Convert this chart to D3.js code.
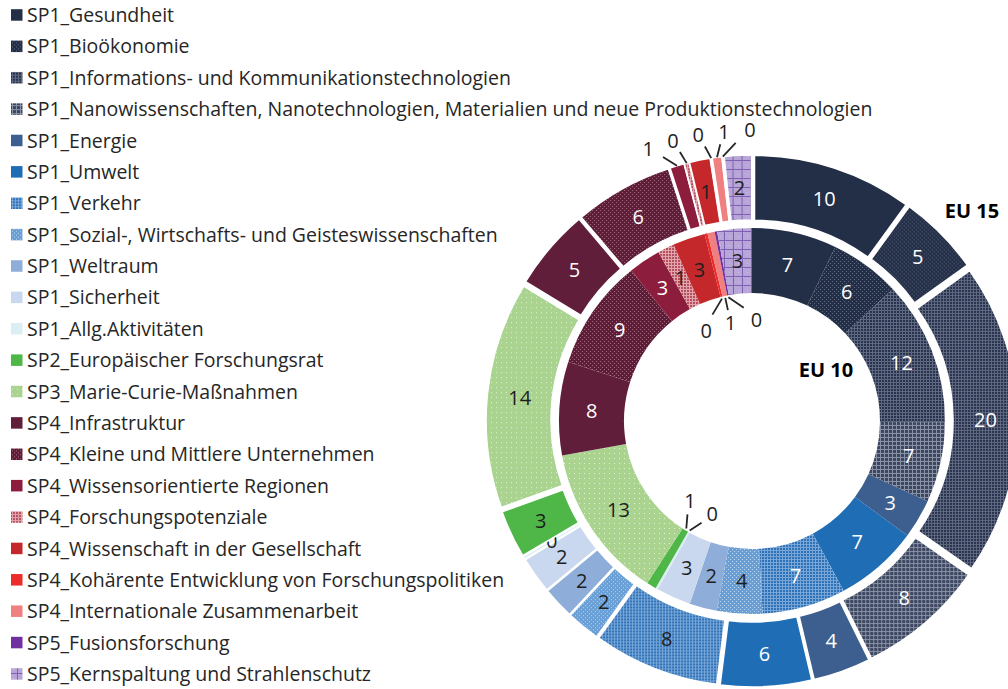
<!DOCTYPE html>
<html>
<head>
<meta charset="utf-8">
<script src="https://cdn.jsdelivr.net/npm/d3@7"></script>
<style>
  body { margin: 0; background: #fff; }
  svg text { font-family: "Open Sans", "Noto Sans", sans-serif; }
</style>
</head>
<body>
<div id="graphic"></div>
<script>
// Anteile je Programmbereich (in %), EU 10 innen, EU 15 aussen
const categories = [
  "SP1_Gesundheit",
  "SP1_Bioökonomie",
  "SP1_Informations- und Kommunikationstechnologien",
  "SP1_Nanowissenschaften, Nanotechnologien, Materialien und neue Produktionstechnologien",
  "SP1_Energie",
  "SP1_Umwelt",
  "SP1_Verkehr",
  "SP1_Sozial-, Wirtschafts- und Geisteswissenschaften",
  "SP1_Weltraum",
  "SP1_Sicherheit",
  "SP1_Allg.Aktivitäten",
  "SP2_Europäischer Forschungsrat",
  "SP3_Marie-Curie-Maßnahmen",
  "SP4_Infrastruktur",
  "SP4_Kleine und Mittlere Unternehmen",
  "SP4_Wissensorientierte Regionen",
  "SP4_Forschungspotenziale",
  "SP4_Wissenschaft in der Gesellschaft",
  "SP4_Kohärente Entwicklung von Forschungspolitiken",
  "SP4_Internationale Zusammenarbeit",
  "SP5_Fusionsforschung",
  "SP5_Kernspaltung und Strahlenschutz"
];

const eu10 = [7.1, 5.9, 12.1, 6.7, 3.3, 7.0, 7.0, 3.8, 2.3, 2.9, 0.2,
              0.8, 13.0, 7.8, 9.3, 2.7, 1.4, 2.7, 0.25, 0.6, 0.2, 2.9];
const eu15 = [10.0, 5.1, 19.6, 8.0, 3.6, 5.7, 7.9, 2.1, 2.0, 2.3, 0.2,
              3.0, 14.2, 5.1, 6.2, 0.9, 0.3, 1.3, 0.1, 0.6, 0.1, 1.7];

const seriesNames = ["EU 10", "EU 15"];

// slices labelled with a leader line instead of inside the ring
const callouts10 = ["SP1_Allg.Aktivitäten", "SP2_Europäischer Forschungsrat",
  "SP4_Kohärente Entwicklung von Forschungspolitiken", "SP4_Internationale Zusammenarbeit",
  "SP5_Fusionsforschung"];
const callouts15 = ["SP4_Wissensorientierte Regionen", "SP4_Forschungspotenziale",
  "SP4_Kohärente Entwicklung von Forschungspolitiken", "SP4_Internationale Zusammenarbeit",
  "SP5_Fusionsforschung"];

// fills: base colour, pattern kind, pattern colour
const fills = [
  ["#232e47", null, null],
  ["#232e47", "check", "#5f687f"],
  ["#29334d", "grid", "#5f6881"],
  ["#3c4660", "grid4", "#8a92a6"],
  ["#3d5f8f", null, null],
  ["#1f6db4", null, null],
  ["#2f72b6", "grid", "#78a6d8"],
  ["#6a9fd6", "check", "#b9d2ec"],
  ["#8eadd9", null, null],
  ["#c9d8ee", null, null],
  ["#dbeef4", null, null],
  ["#4fb748", null, null],
  ["#a9d38f", "sparse", "#e4f2da"],
  ["#611e3a", null, null],
  ["#5c1d36", "check", "#a86a80"],
  ["#8c1d3c", null, null],
  ["#b5505f", "grid", "#e3a5ad"],
  ["#c4282b", null, null],
  ["#ee2b2b", null, null],
  ["#f08080", null, null],
  ["#7030a0", null, null],
  ["#b8a6d8", "biggrid", "#7f5fb3"]
];

// white value labels on dark slices
const whiteLabels10 = [0, 1, 2, 3, 4, 5, 6, 13, 14, 15];
const whiteLabels15 = [0, 1, 2, 3, 4, 5, 13, 14];

const width = 1008, height = 689;
const cx = 752, cy = 421;
const ring10 = { inner: 128, outer: 193 };
const ring15 = { inner: 193, outer: 258, explode: 8 };
const textColor = "#262626";
const valueSize = 20;

const svg = d3.select("#graphic").append("svg")
  .attr("width", width)
  .attr("height", height);

const defs = svg.append("defs");

function addPattern(id, base, kind, fg){
  const size = { check: 4, grid: 3, grid4: 4, sparse: 5, biggrid: 9 }[kind];
  const p = defs.append("pattern")
    .attr("id", id)
    .attr("patternUnits", "userSpaceOnUse")
    .attr("width", size)
    .attr("height", size);
  p.append("rect").attr("width", size).attr("height", size).attr("fill", base);
  if (kind === "check"){
    p.append("rect").attr("x", 0).attr("y", 0).attr("width", 1).attr("height", 1).attr("fill", fg);
    p.append("rect").attr("x", 2).attr("y", 2).attr("width", 1).attr("height", 1).attr("fill", fg);
  } else if (kind === "grid" || kind === "grid4"){
    p.append("rect").attr("x", 0).attr("y", 0).attr("width", size).attr("height", 1).attr("fill", fg);
    p.append("rect").attr("x", 0).attr("y", 0).attr("width", 1).attr("height", size).attr("fill", fg);
  } else if (kind === "sparse"){
    p.append("rect").attr("x", 2).attr("y", 2).attr("width", 1).attr("height", 1).attr("fill", fg);
  } else if (kind === "biggrid"){
    p.append("rect").attr("x", 0).attr("y", 0).attr("width", 1).attr("height", 1).attr("fill", "#cbbde4");
    p.append("rect").attr("x", 4).attr("y", 4).attr("width", 1).attr("height", 1).attr("fill", "#cbbde4");
    p.append("rect").attr("x", 0).attr("y", 8).attr("width", size).attr("height", 1).attr("fill", fg);
    p.append("rect").attr("x", 8).attr("y", 0).attr("width", 1).attr("height", size).attr("fill", fg);
  }
}

const fillOf = categories.map(function(c, i){
  const f = fills[i];
  if (!f[1]) return f[0];
  addPattern("pat" + i, f[0], f[1], f[2]);
  return "url(#pat" + i + ")";
});

// ---- legend ----
const yLegend = d3.scalePoint()
  .domain(categories)
  .range([15, 674]);

const legend = svg.append("g").attr("class", "legend");

const items = legend.selectAll("g")
  .data(categories)
  .enter()
  .append("g")
  .attr("transform", d => `translate(0, ${yLegend(d)})`);

items.append("rect")
  .attr("x", 11)
  .attr("y", -5.8)
  .attr("width", 11.5)
  .attr("height", 11.5)
  .attr("fill", (d, i) => fillOf[i]);

const legendText = items.append("text")
  .attr("x", 27)
  .attr("dy", "0.36em")
  .attr("fill", textColor)
  .style("font-size", "21px")
  .text(d => d);

// fit the longest entry to the width it has in the original
let maxW = 0;
legendText.each(function(){ maxW = Math.max(maxW, this.getComputedTextLength()); });
const fontSize = Math.min(21, 21 * 846 / maxW);
legendText.style("font-size", fontSize + "px");

// ---- rings ----
const pie = d3.pie().sort(null).value(d => d);
const plot = svg.append("g").attr("transform", `translate(${cx}, ${cy})`);

const dir = a => [Math.sin(a), -Math.cos(a)];
const fmt = v => String(Math.round(v));

function drawRing(values, ring, callouts, whites, cls){
  const arcs = pie(values);
  const arc = d3.arc().innerRadius(ring.inner).outerRadius(ring.outer);
  const ex = ring.explode || 0;
  const g = plot.append("g").attr("class", cls);

  const slice = g.selectAll("g.slice")
    .data(arcs)
    .enter()
    .append("g")
    .attr("class", "slice")
    .attr("transform", function(d){
      const m = dir((d.startAngle + d.endAngle) / 2);
      return `translate(${m[0] * ex}, ${m[1] * ex})`;
    });

  slice.append("path")
    .attr("d", arc)
    .attr("fill", (d, i) => fillOf[i])
    .attr("stroke", ex ? "#fff" : "none")
    .attr("stroke-width", 1.6);

  slice.filter((d, i) => callouts.indexOf(categories[i]) < 0)
    .append("text")
    .attr("transform", d => `translate(${arc.centroid(d)})`)
    .attr("text-anchor", "middle")
    .attr("dy", "0.36em")
    .attr("fill", d => whites.indexOf(d.index) >= 0 ? "#fff" : "#1e1e1e")
    .style("font-size", valueSize + "px")
    .text(d => fmt(d.data));

  return arcs;
}

function drawCallouts(arcs, callouts, rStart, rLabel, gapPx){
  const list = arcs
    .filter(d => callouts.indexOf(categories[d.index]) >= 0)
    .map(d => {
      const a = (d.startAngle + d.endAngle) / 2;
      return { d: d, a: a, la: a };
    })
    .sort((p, q) => p.a - q.a);
  const gap = gapPx / rLabel;
  for (let k = 0; k < 300; k++){
    let moved = false;
    for (let i = 0; i < list.length - 1; i++){
      const diff = list[i + 1].la - list[i].la;
      if (diff < gap - 1e-6 && diff < 1){
        const p = (gap - diff) / 2;
        list[i].la -= p;
        list[i + 1].la += p;
        moved = true;
      }
    }
    if (!moved) break;
  }
  const rMid = (rStart + rLabel) / 2;
  const g = plot.append("g").attr("class", "callouts");
  list.forEach(function(c){
    const s = dir(c.a), e = dir((c.a + c.la) / 2), t = dir(c.la);
    g.append("line")
      .attr("x1", s[0] * rStart).attr("y1", s[1] * rStart)
      .attr("x2", e[0] * rMid).attr("y2", e[1] * rMid)
      .attr("stroke", textColor)
      .attr("stroke-width", 1.8);
    g.append("text")
      .attr("x", t[0] * rLabel)
      .attr("y", t[1] * rLabel)
      .attr("dy", "0.36em")
      .attr("text-anchor", "middle")
      .attr("fill", "#1e1e1e")
      .style("font-size", valueSize + "px")
      .text(fmt(c.d.data));
  });
}

const arcs10 = drawRing(eu10, ring10, callouts10, whiteLabels10, "eu10");
const arcs15 = drawRing(eu15, ring15, callouts15, whiteLabels15, "eu15");

drawCallouts(arcs15, callouts15, ring15.outer + ring15.explode, 291, 26);
drawCallouts(arcs10, callouts10, ring10.inner - 2, 101, 26);

// series names
plot.append("text")
  .attr("x", 220).attr("y", -210)
  .attr("dy", "0.36em")
  .attr("text-anchor", "middle")
  .attr("fill", "#000")
  .style("font-size", valueSize + "px")
  .style("font-weight", "bold")
  .text(seriesNames[1]);

plot.append("text")
  .attr("x", 74).attr("y", -51)
  .attr("dy", "0.36em")
  .attr("text-anchor", "middle")
  .attr("fill", "#000")
  .style("font-size", valueSize + "px")
  .style("font-weight", "bold")
  .text(seriesNames[0]);
</script>
</body>
</html>
